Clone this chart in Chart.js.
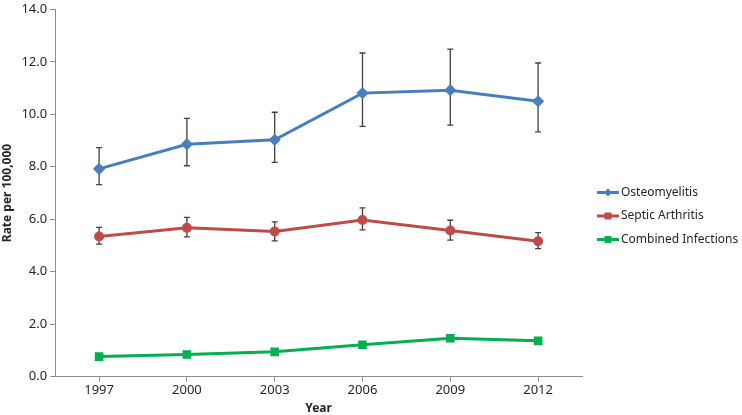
<!DOCTYPE html>
<html>
<head>
<meta charset="utf-8">
<script src="https://cdn.jsdelivr.net/npm/chart.js@4"></script>
<style>
  html, body { margin: 0; padding: 0; background: #fff; }
  #wrap { width: 742px; height: 415px; }
</style>
</head>
<body>
<div id="wrap"><canvas id="chart"></canvas></div>
<script>
// data
const years = ["1997", "2000", "2003", "2006", "2009", "2012"];

const osteo = [7.92, 8.86, 9.03, 10.81, 10.92, 10.50];
const osteoLow = [7.32, 8.04, 8.17, 9.54, 9.59, 9.33];
const osteoHigh = [8.73, 9.85, 10.08, 12.34, 12.49, 11.96];

const septic = [5.34, 5.67, 5.53, 5.97, 5.57, 5.16];
const septicLow = [5.05, 5.33, 5.17, 5.59, 5.20, 4.88];
const septicHigh = [5.69, 6.07, 5.90, 6.43, 5.96, 5.49];

const combined = [0.76, 0.84, 0.94, 1.21, 1.46, 1.36];

const FONT = "'Noto Sans', sans-serif";
const TEXT = "#262626";
const AXIS = "#8c8c8c";

// error bars, drawn under the lines
const errorBars = {
  id: "errorBars",
  beforeDatasetsDraw(chart) {
    const { ctx, scales: { x, y } } = chart;
    const sets = [[osteoLow, osteoHigh], [septicLow, septicHigh]];
    ctx.save();
    ctx.strokeStyle = "#404040";
    ctx.lineWidth = 1.3;
    sets.forEach(([lo, hi]) => {
      years.forEach((yr, i) => {
        const px = x.getPixelForValue(i);
        const top = y.getPixelForValue(hi[i]);
        const bot = y.getPixelForValue(lo[i]);
        ctx.beginPath();
        ctx.moveTo(px, top); ctx.lineTo(px, bot);
        ctx.moveTo(px - 3, top); ctx.lineTo(px + 3, top);
        ctx.moveTo(px - 3, bot); ctx.lineTo(px + 3, bot);
        ctx.stroke();
      });
    });
    ctx.restore();
  }
};

// legend on the right, Excel style (line with marker through it)
const sideLegend = {
  id: "sideLegend",
  afterDraw(chart) {
    const { ctx, chartArea } = chart;
    const x0 = chartArea.right + 15;
    let yy = chartArea.top + 183;
    ctx.save();
    chart.data.datasets.forEach((ds) => {
      ctx.strokeStyle = ds.borderColor;
      ctx.fillStyle = ds.borderColor;
      ctx.lineWidth = 3;
      ctx.beginPath();
      ctx.moveTo(x0, yy); ctx.lineTo(x0 + 22, yy);
      ctx.stroke();
      const cx = x0 + 11;
      ctx.beginPath();
      if (ds.pointStyle === "rectRot") {
        ctx.moveTo(cx, yy - 4); ctx.lineTo(cx + 4, yy);
        ctx.lineTo(cx, yy + 4); ctx.lineTo(cx - 4, yy);
        ctx.closePath();
      } else {
        ctx.rect(cx - 3.5, yy - 3.5, 7, 7);
      }
      ctx.fill();
      ctx.fillStyle = TEXT;
      ctx.font = "12px " + FONT;
      ctx.textBaseline = "middle";
      ctx.fillText(ds.label, x0 + 24, yy);
      yy += 23.5;
    });
    ctx.restore();
  }
};

new Chart(document.getElementById("chart"), {
  type: "line",
  data: {
    labels: years,
    datasets: [
      {
        label: "Osteomyelitis",
        data: osteo,
        borderColor: "#4a7ebb",
        backgroundColor: "#4a7ebb",
        borderWidth: 3,
        pointStyle: "rectRot",
        pointRadius: 4,
        tension: 0
      },
      {
        label: "Septic Arthritis",
        data: septic,
        borderColor: "#be4b48",
        backgroundColor: "#be4b48",
        borderWidth: 3,
        pointStyle: "circle",
        pointRadius: 3.5,
        tension: 0
      },
      {
        label: "Combined Infections",
        data: combined,
        borderColor: "#00b050",
        backgroundColor: "#00b050",
        borderWidth: 3,
        pointStyle: "rect",
        pointRadius: 4,
        tension: 0
      }
    ]
  },
  options: {
    responsive: true,
    maintainAspectRatio: false,
    animation: false,
    layout: { padding: { top: 0, right: 160, bottom: 0, left: 0 } },
    plugins: { legend: { display: false }, tooltip: { enabled: false } },
    scales: {
      x: {
        offset: true,
        grid: { display: true, offset: false, drawOnChartArea: false, tickLength: 5, color: AXIS },
        border: { color: AXIS, width: 1 },
        ticks: { color: TEXT, font: { family: FONT, size: 13, lineHeight: 1.1 }, padding: 2 },
        title: { display: true, text: "Year", color: TEXT, font: { family: FONT, size: 12, weight: "bold", lineHeight: 1.1 }, padding: { top: 2, bottom: 0 } }
      },
      y: {
        min: 0,
        max: 14,
        ticks: {
          stepSize: 2,
          color: TEXT,
          font: { family: FONT, size: 13, lineHeight: 1 },
          padding: 3,
          callback: (v) => v.toFixed(1)
        },
        grid: { display: true, drawOnChartArea: false, tickLength: 5, color: AXIS },
        border: { color: AXIS, width: 1 },
        title: { display: true, text: "Rate per 100,000", color: TEXT, font: { family: FONT, size: 12, weight: "bold" }, padding: { top: 0, bottom: 4 } }
      }
    }
  },
  plugins: [errorBars, sideLegend]
});
</script>
</body>
</html>
